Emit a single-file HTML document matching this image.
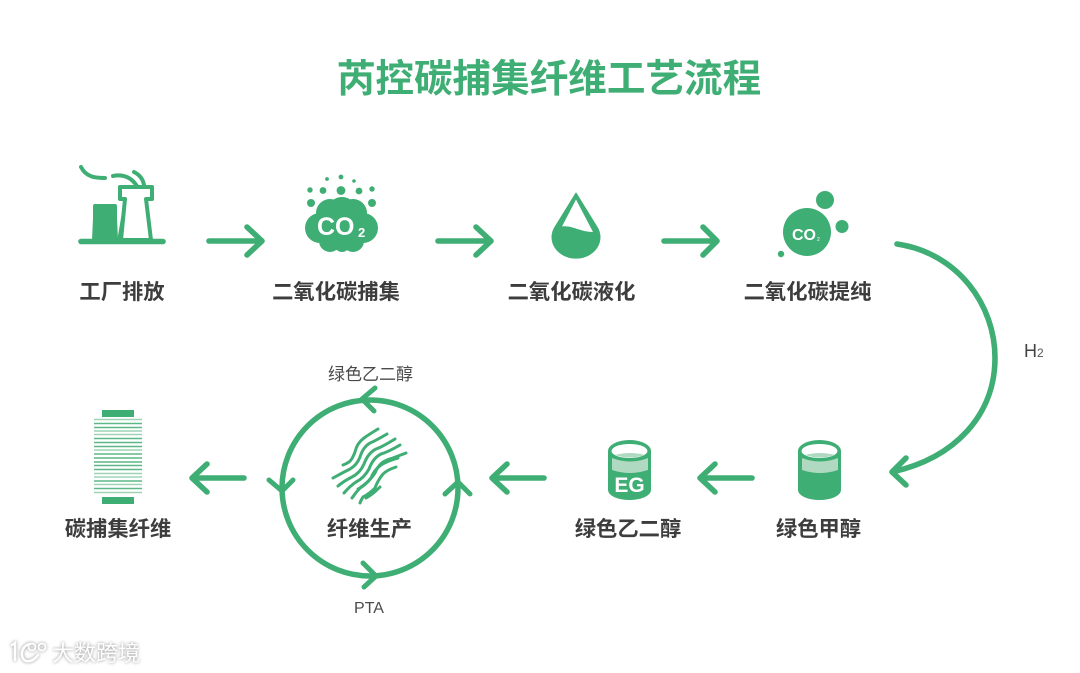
<!DOCTYPE html>
<html><head><meta charset="utf-8">
<style>
html,body{margin:0;padding:0;background:#fff;width:1080px;height:673px;overflow:hidden}
svg{display:block;filter:blur(.3px)}
text{font-family:"Liberation Sans","Noto Sans CJK SC",sans-serif}
.l{font-size:21.3px;font-weight:700;fill:#3d3d3d;text-anchor:middle}
.s{font-size:17px;fill:#4a4a4a;text-anchor:middle}
.a{fill:none;stroke:#3fae74;stroke-width:5.6;stroke-linecap:round;stroke-linejoin:round}
.f{fill:none;stroke:#3fae74;stroke-width:3;stroke-linecap:round;stroke-linejoin:round}
</style></head><body>
<svg width="1080" height="673" viewBox="0 0 1080 673" xmlns="http://www.w3.org/2000/svg">
<text x="549" y="92" text-anchor="middle" font-size="38.6" font-weight="700" fill="#3fae74">芮控碳捕集纤维工艺流程</text>

<!-- factory -->
<path d="M81 167C86 177 95 178 105 178" fill="none" stroke="#3fae74" stroke-width="4" stroke-linecap="round"/>
<path d="M113 176C123 174 131 177 137 186M134 172C140 175 143 179 144 185" fill="none" stroke="#3fae74" stroke-width="4" stroke-linecap="round"/>
<path d="M95 204H115Q117 204 117 206V218L118 240H92L93 218V206Q93 204 95 204Z" fill="#3fae74"/>
<path d="M120 240L124 205L118 240Z" fill="#3fae74" stroke="#3fae74" stroke-width="1.500"/>
<path d="M120 187H152V199H146L151 240H121L125 199H120Z" fill="#fff" stroke="#3fae74" stroke-width="4" stroke-linejoin="round"/>
<path d="M81 241.500H163" class="a"/>

<!-- cloud -->
<g fill="#3fae74">
<circle cx="342" cy="226" r="22"/><circle cx="320" cy="228" r="15"/><circle cx="363" cy="228" r="15"/><circle cx="330" cy="213" r="14"/><circle cx="353" cy="213" r="14"/><circle cx="342" cy="212" r="15"/><circle cx="330" cy="241" r="11"/><circle cx="353" cy="241" r="11"/>
<circle cx="342" cy="244" r="8"/>
<circle cx="311" cy="203" r="4"/><circle cx="372" cy="203" r="4"/><circle cx="310" cy="190" r="2.700"/><circle cx="323" cy="190.500" r="3.400"/><circle cx="341" cy="190.500" r="4.400"/><circle cx="359" cy="191" r="3.400"/><circle cx="372" cy="189" r="2.700"/><circle cx="327" cy="179" r="1.900"/><circle cx="341" cy="177" r="2.400"/><circle cx="354" cy="181" r="1.800"/>
</g>
<text x="317" y="235" font-size="25" font-weight="700" fill="#fff">CO</text>
<text x="358" y="237" font-size="13" font-weight="700" fill="#fff">2</text>

<!-- drop -->
<path d="M576 193L597 227A24 21 0 1 1 555 227Z" fill="#3fae74" stroke="#3fae74" stroke-width="1" stroke-linejoin="round"/>
<path d="M576 199.500L593 232C580 232 572 225 562 226.500Z" fill="#fff"/>

<!-- co2 bubbles -->
<g fill="#3fae74"><circle cx="807" cy="232" r="24"/><circle cx="825" cy="200" r="9"/><circle cx="842" cy="226.500" r="6.500"/><circle cx="781" cy="254" r="3.200"/></g>
<text x="792" y="240" font-size="16" font-weight="700" fill="#fff">CO</text>
<text x="817" y="241" font-size="5" fill="#fff">2</text>

<!-- top arrows -->
<path class="a" d="M209 241H262M247 227L262 241L247 255"/>
<path class="a" d="M438 241H491M476 227L491 241L476 255"/>
<path class="a" d="M664 241H717M703 227L717 241L703 255"/>

<text class="l" x="122" y="299">工厂排放</text>
<text class="l" x="336" y="299">二氧化碳捕集</text>
<text class="l" x="571.500" y="299">二氧化碳液化</text>
<text class="l" x="807.500" y="299">二氧化碳提纯</text>

<!-- H2 curve -->
<path class="a" d="M897 244C958 253 995 305 995 358C995 415 955 458 892 472M906 458L892 472L906 485"/>
<text x="1024" y="357" font-size="18" fill="#444">H</text>
<text x="1037" y="357" font-size="12" fill="#555">2</text>

<!-- cylinders -->
<g>
<path d="M608 451A21.500 11 0 0 1 651 451V490A21.500 10 0 0 1 608 490Z" fill="#3fae74"/>
<ellipse cx="629.500" cy="451" rx="18" ry="7" fill="#fff"/>
<path d="M615 455Q630 451 645 455Q630 460 615 455Z" fill="#afd9c0"/>
<path d="M612 458Q630 465 648 458V470Q630 476 612 470Z" fill="#afd9c0"/>
<text x="629.500" y="492" text-anchor="middle" font-size="21" font-weight="700" fill="#fff">EG</text>
<path d="M798 451A21.500 11 0 0 1 841 451V490A21.500 10 0 0 1 798 490Z" fill="#3fae74"/>
<ellipse cx="819.500" cy="451" rx="18" ry="7" fill="#fff"/>
<path d="M805 455Q820 451 835 455Q820 460 805 455Z" fill="#afd9c0"/>
<path d="M802 458Q820 465 838 458V470Q820 476 802 470Z" fill="#afd9c0"/>
</g>

<!-- lower arrows -->
<path class="a" d="M752 478H700M715 464L700 478L715 492"/>
<path class="a" d="M544 478H492M507 464L492 478L507 492"/>
<path class="a" d="M244 478H192M207 464L192 478L207 492"/>

<text class="l" x="628" y="536">绿色乙二醇</text>
<text class="l" x="818.500" y="536">绿色甲醇</text>
<text class="l" x="369.500" y="536">纤维生产</text>
<text class="l" x="118" y="536">碳捕集纤维</text>

<!-- ring -->
<circle cx="370" cy="488" r="88" fill="none" stroke="#3fae74" stroke-width="5.500"/>
<path class="a" style="stroke-width:5" d="M375 388L362 399L374 411M363 563L376 576L364 587M269 480L282 491L293 480M445 494L458 482L470 494"/>
<text class="s" x="370.500" y="380">绿色乙二醇</text>
<text x="369" y="613" text-anchor="middle" font-size="16" fill="#4a4a4a">PTA</text>

<!-- fibres -->
<path class="f" d="M378 429Q368 435 364 438Q357 443 355 452Q352 460 349 462Q346 464 343 465"/>
<path class="f" d="M387 434Q375 441 370 443Q363 447 360 457Q357 465 350 469Q342 473 333 478"/>
<path class="f" d="M395 439Q382 447 376 449Q368 453 364 464Q360 473 352 477Q344 481 338 486"/>
<path class="f" d="M400 445Q388 452 381 454Q373 458 369 469Q364 478 356 482Q350 486 344 493"/>
<path class="f" d="M406 453Q393 458 387 460Q379 463 375 473Q369 482 361 487Q356 492 352 498"/>
<path class="f" d="M398 458Q387 461 381 465Q374 470 371 478Q365 486 358 489"/>
<path class="f" d="M396 467Q387 470 383 474Q378 480 375 488Q369 494 363 497Q361 500 360 503"/>
<path class="f" d="M380 487Q372 495 366 498"/>

<!-- spool -->
<rect x="102" y="410" width="32" height="7" fill="#3fae74"/>
<rect x="102" y="497" width="32" height="7" fill="#3fae74"/>
<g stroke-width="1.600" fill="none">
<path stroke="#9ed3b5" d="M94 419.500H142M94 431H142M94 434.500H142M94 450H142M94 473.500H142M94 477H142M94 492.500H142M94 484.500H142"/>
<path stroke="#5cb887" d="M94 423.500H142M94 427.500H142M94 438.500H142M94 442.500H142M94 446.500H142M94 454H142M94 458H142M94 462H142M94 465.500H142M94 469.500H142M94 481H142M94 488.500H142"/>
</g>

<!-- watermark -->
<g style="filter:drop-shadow(0 0 1.500px #8a8a8a)">
<path d="M12 645L15 643V660M30 644C20 646 20 659 26 661C31 662 35 659 38 655" fill="none" stroke="#fff" stroke-width="2.500" stroke-linecap="round"/>
<circle cx="32" cy="647" r="3.500" fill="none" stroke="#fff" stroke-width="1.800"/><circle cx="42" cy="647" r="3.500" fill="none" stroke="#fff" stroke-width="1.800"/>
<text x="52" y="661" font-size="22" fill="#fff">大数跨境</text>
</g>
</svg>
</body></html>
